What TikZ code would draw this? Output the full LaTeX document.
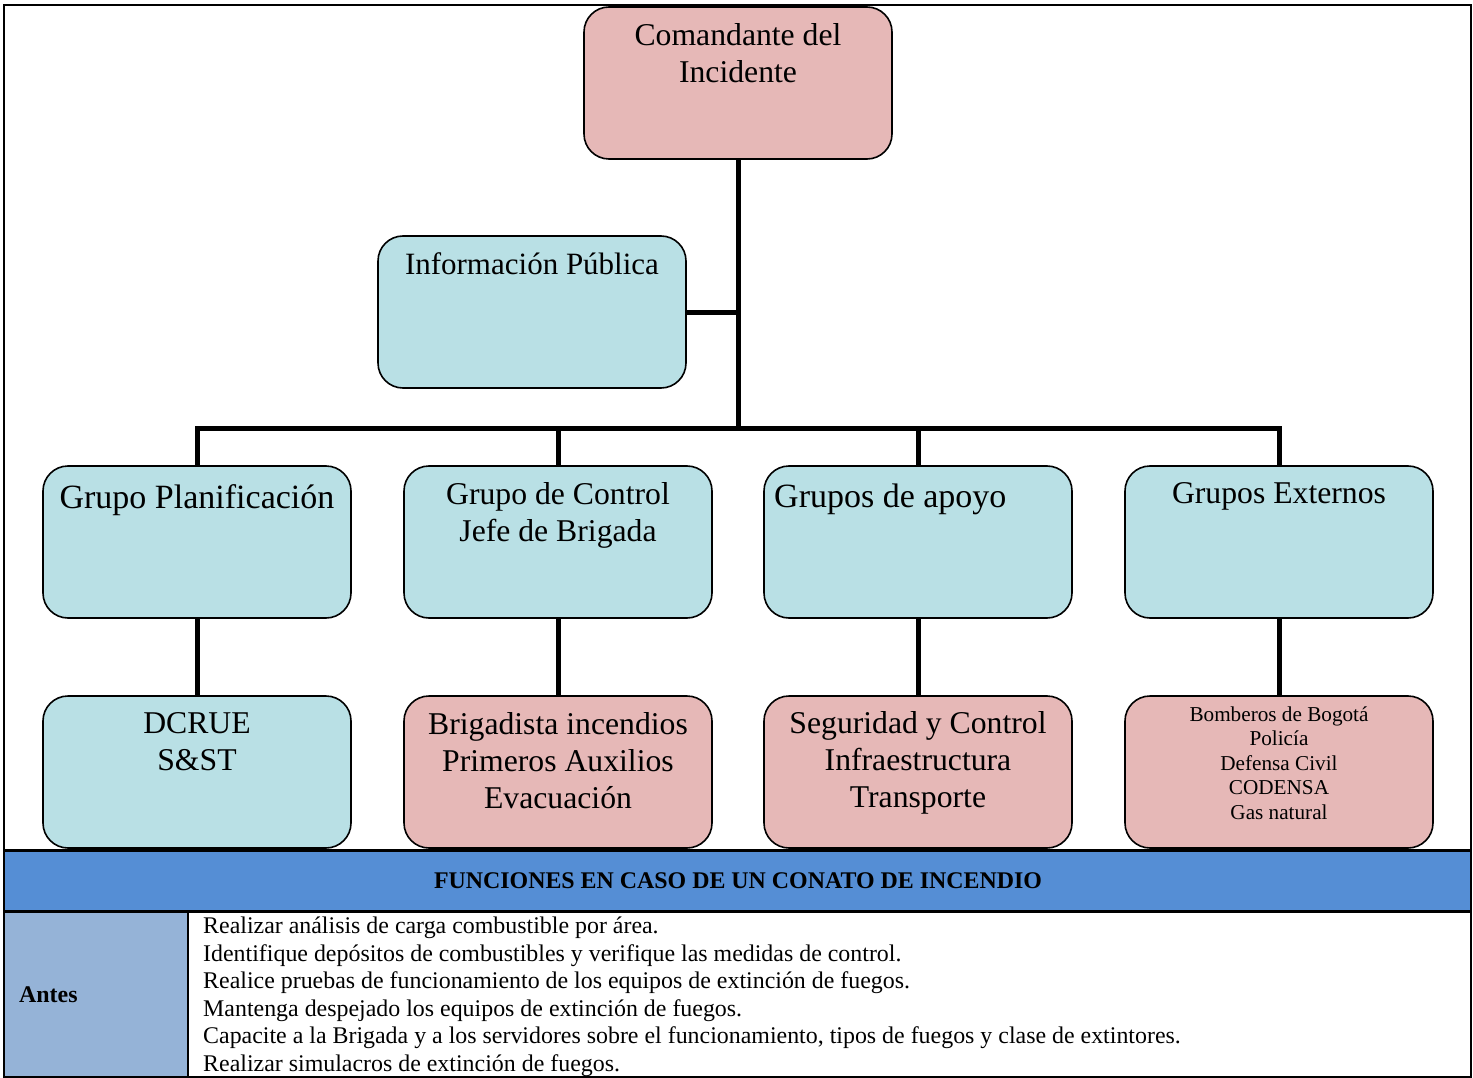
\documentclass[tikz,border=0pt]{standalone}
\usepackage{fontspec}
\setmainfont{Liberation Serif}
\definecolor{pinkc}{HTML}{E6B8B7}
\definecolor{bluec}{HTML}{B9E0E5}
\definecolor{hdrc}{HTML}{558ED5}
\definecolor{antesc}{HTML}{95B3D7}
\begin{document}
\begin{tikzpicture}[x=1pt,y=-1pt,
  box/.style={draw=black, line width=1.6pt, rounded corners=25pt, minimum width=308pt, minimum height=152pt, inner sep=0pt},
  pinkbox/.style={box, fill=pinkc},
  bluebox/.style={box, fill=bluec},
  conn/.style={line width=5pt, black},
  txt/.style={inner sep=0pt, align=center, anchor=north, font=\fontsize{31.7}{37}\selectfont},
  bigtxt/.style={txt, font=\fontsize{34}{39}\selectfont},
  smalltxt/.style={txt, font=\fontsize{21.2}{24.5}\selectfont},
  tabtxt/.style={inner sep=0pt, align=left, anchor=north west, font=\fontsize{23.9}{27.6}\selectfont},
  boldtxt/.style={inner sep=0pt, font=\fontsize{23.9}{27.6}\selectfont\bfseries}
]
\useasboundingbox (0,0) rectangle (1473,1078);

% table
\fill[hdrc] (4,850) rectangle (1471,911);
\fill[antesc] (4,911) rectangle (188,1077);
\draw[line width=3pt] (4,850) -- (1471,850);
\draw[line width=3pt] (4,911) -- (1471,911);
\draw[line width=2.5pt] (188,911) -- (188,1077);
\draw[line width=2.5pt] (4,5) rectangle (1471,1077);

\node[boldtxt, anchor=base] (hdr) at (738,888) {FUNCIONES EN CASO DE UN CONATO DE INCENDIO};
\node[boldtxt, anchor=base west] (antes) at (19,1002) {Antes};
\node[tabtxt] (antestxt) at (203,916.7) {Realizar análisis de carga combustible por área.\\
Identifique depósitos de combustibles y verifique las medidas de control.\\
Realice pruebas de funcionamiento de los equipos de extinción de fuegos.\\
Mantenga despejado los equipos de extinción de fuegos.\\
Capacite a la Brigada y a los servidores sobre el funcionamiento, tipos de fuegos y clase de extintores.\\
Realizar simulacros de extinción de fuegos.};

% boxes
\node[pinkbox] (cmd) at (738,83) {};
\node[bluebox] (info) at (532,312) {};
\node[bluebox] (g1) at (197,542) {};
\node[bluebox] (g2) at (558,542) {};
\node[bluebox] (g3) at (918,542) {};
\node[bluebox] (g4) at (1279,542) {};
\node[bluebox] (r1) at (197,772) {};
\node[pinkbox] (r2) at (558,772) {};
\node[pinkbox] (r3) at (918,772) {};
\node[pinkbox] (r4) at (1279,772) {};

% texts
\node[txt] (cmdt) at (738,23.4) {Comandante del\\Incidente};
\node[txt, font=\fontsize{31}{36}\selectfont] (infot) at (532,252.8) {Información Pública};
\node[bigtxt] (g1t) at (197,484.8) {Grupo Planificación};
\node[txt] (g2t) at (558,482.4) {Grupo de Control\\Jefe de Brigada};
\node[bigtxt, anchor=north west] (g3t) at (774,483.8) {Grupos de apoyo};
\node[txt] (g4t) at (1279,482.4) {Grupos Externos};
\node[txt] (r1t) at (197,712.7) {DCRUE\\S\&ST};
\node[txt] (r2t) at (558,712.4) {Brigadista incendios\\Primeros Auxilios\\Evacuación};
\node[txt] (r3t) at (918,711.4) {Seguridad y Control\\Infraestructura\\Transporte};
\node[smalltxt] (r4t) at (1279,706.5) {Bomberos de Bogotá\\Policía\\Defensa Civil\\CODENSA\\Gas natural};

% connectors
\coordinate (bus) at (738,428);
\draw[conn] (cmd.south) -- (bus);
\draw[conn] (info.east) -- (info.east -| bus);
\draw[conn] (g1.north) |- (bus) -| (g4.north);
\draw[conn] (g2.north) -- (g2.north |- bus);
\draw[conn] (g3.north) -- (g3.north |- bus);
\draw[conn] (g1.south) -- (r1.north);
\draw[conn] (g2.south) -- (r2.north);
\draw[conn] (g3.south) -- (r3.north);
\draw[conn] (g4.south) -- (r4.north);
\end{tikzpicture}
\end{document}
